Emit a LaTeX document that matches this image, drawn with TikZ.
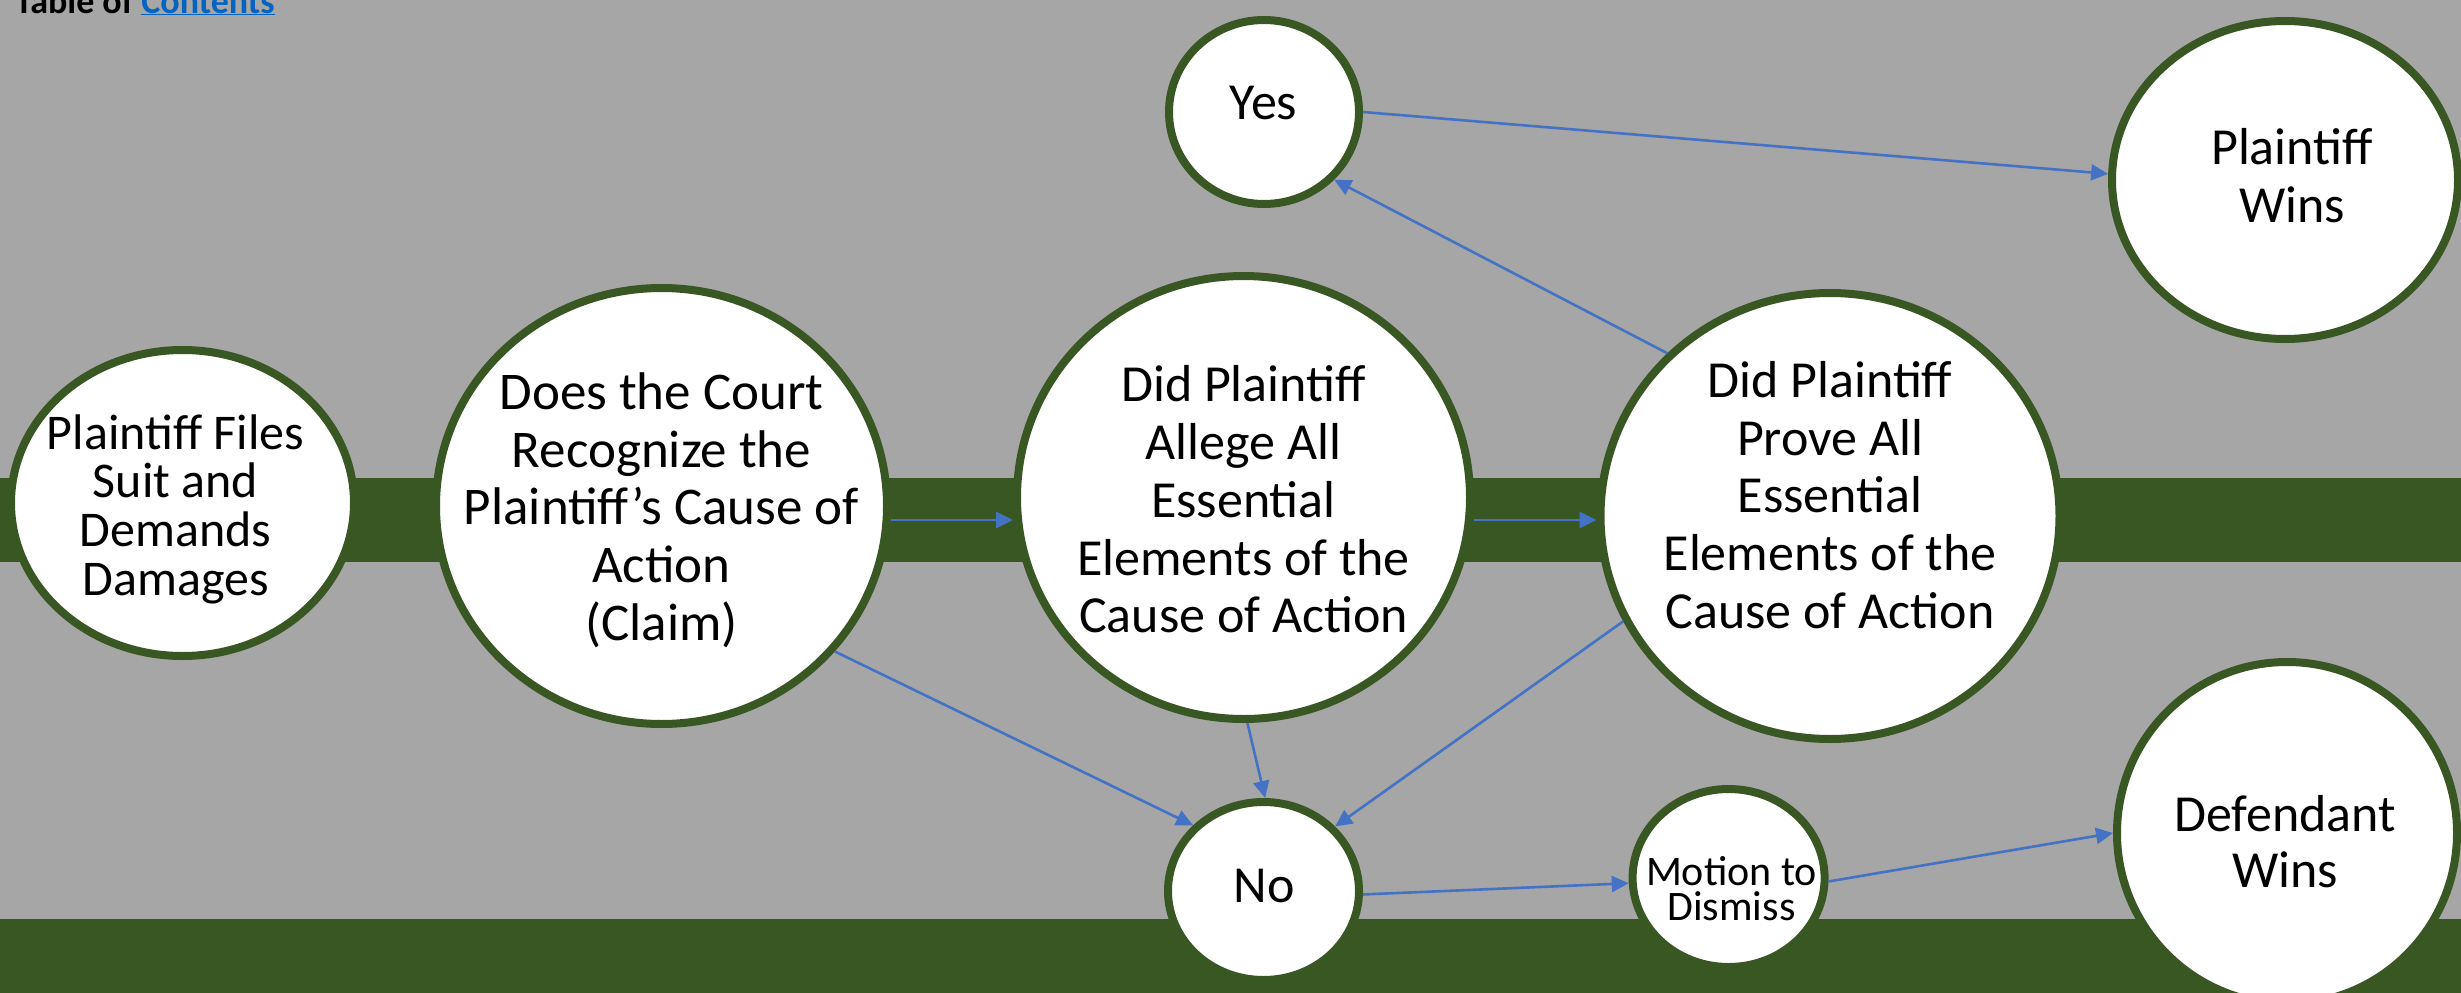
\documentclass[tikz,border=0pt]{standalone}
\usepackage{fontspec}
\setmainfont{Carlito}
\usetikzlibrary{shapes.geometric,arrows.meta}
\definecolor{bggray}{HTML}{A6A6A6}
\definecolor{dgreen}{HTML}{385723}
\definecolor{ablue}{HTML}{4472C4}
\definecolor{linkblue}{HTML}{0563C1}
\begin{document}
\begin{tikzpicture}[x=1pt,y=-1pt,
  circ/.style={ellipse, draw=dgreen, line width=8pt, fill=white, inner sep=0pt},
  lbl/.style={align=center, text=black, inner sep=0pt},
  big/.style={font=\fontsize{52}{57.7}\selectfont},
  arr/.style={draw=ablue, line width=2.6pt, -{Triangle[length=17pt,width=16pt]}}]
\useasboundingbox (0,0) rectangle (2461,993);
\clip (0,0) rectangle (2461,993);
\fill[bggray] (0,0) rectangle (2461,993);
\fill[dgreen] (0,478) rectangle (2461,562);
\fill[dgreen] (0,919) rectangle (2461,993);
% circles
\node[circ, minimum width=343pt, minimum height=306pt] (c1) at (182.5,503) {};
\node[circ, minimum width=451pt, minimum height=436pt] (c2) at (661.5,506) {};
\node[circ, minimum width=453pt, minimum height=443pt] (c3) at (1243.5,497.5) {};
\node[circ, minimum width=459pt, minimum height=446pt] (c4) at (1830,516) {};
\node[circ, minimum width=190pt, minimum height=184pt] (yes) at (1264,112) {};
\node[circ, minimum width=346pt, minimum height=318pt] (pw) at (2285,180) {};
\node[circ, minimum width=191pt, minimum height=178pt] (no) at (1263.5,891) {};
\node[circ, minimum width=192pt, minimum height=178pt] (mtd) at (1728.6,878) {};
\node[circ, minimum width=340pt, minimum height=342pt] (dw) at (2287,833) {};
% texts
\node[lbl, font=\fontsize{50}{48.7}\selectfont] (t1) at (175.5,509) {Plaintiff Files\\Suit and\\Demands\\Damages};
\node[lbl, font=\fontsize{53}{57.7}\selectfont] (t2) at (661.5,510) {Does the Court\\Recognize the\\Plaintiff’s Cause of\\Action\\(Claim)};
\node[lbl, big] (t3) at (1243.5,499.5) {Did Plaintiff\\Allege All\\Essential\\Elements of the\\Cause of Action};
\node[lbl, big] (t4) at (1830,495) {Did Plaintiff\\Prove All\\Essential\\Elements of the\\Cause of Action};
\node[lbl, big] (tyes) at (1263.3,103) {Yes};
\node[lbl, big] (tpw) at (2292,175.7) {Plaintiff\\Wins};
\node[lbl, big] (tno) at (1264,886) {No};
\node[lbl, font=\fontsize{42}{35}\selectfont] (tmtd) at (1731.5,888.5) {Motion to\\Dismiss};
\node[lbl, font=\fontsize{52}{56}\selectfont] (tdw) at (2285,842) {Defendant\\Wins};
\node[anchor=base west, inner sep=0pt, font=\fontsize{36}{40}\selectfont\bfseries] (title) at (15,13) {Table of {\color{linkblue}\underline{Contents}}};
% connectors
\draw[arr] (c2.east |- 0,520) -- (c3.west |- 0,520);
\draw[arr] (c3.east |- 0,520) -- (c4.west |- 0,520);
\draw[arr] (c2.-40.7) -- (no.137.4);
\draw[arr] (c3.-89.6) -- (no.89.7);
\draw[arr] (c4.207.2) -- (no.42.2);
\draw[arr] (c4.135.5) -- (yes.-44.1);
\draw[arr] (yes.-0.6) -- (pw.178.4);
\draw[arr] (no.-2.4) -- (mtd.183);
\draw[arr] (mtd.-2.4) -- (dw.180);
\end{tikzpicture}
\end{document}
